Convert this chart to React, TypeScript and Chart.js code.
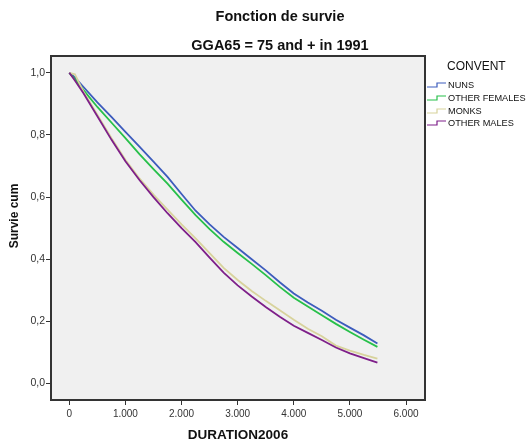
import { useEffect, useRef } from "react";
import { Chart, registerables } from "chart.js";

Chart.register(...registerables);

// ---- data ----
const durations = [0, 100, 250, 500, 750, 1000, 1250, 1500, 1750, 2000, 2250, 2500, 2750, 3000, 3250, 3500, 3750, 4000, 4250, 4500, 4750, 5000, 5250, 5490];
const nuns = [1.0, 0.985, 0.955, 0.905, 0.858, 0.81, 0.762, 0.714, 0.665, 0.61, 0.556, 0.512, 0.472, 0.436, 0.4, 0.364, 0.326, 0.29, 0.261, 0.234, 0.205, 0.18, 0.155, 0.129];
const otherFemales = [1.0, 0.98, 0.945, 0.89, 0.84, 0.79, 0.738, 0.69, 0.643, 0.592, 0.542, 0.497, 0.456, 0.42, 0.385, 0.349, 0.311, 0.276, 0.248, 0.22, 0.192, 0.166, 0.141, 0.118];
const monks = [1.0, 0.995, 0.94, 0.865, 0.79, 0.72, 0.66, 0.608, 0.56, 0.512, 0.467, 0.42, 0.372, 0.333, 0.298, 0.266, 0.236, 0.205, 0.176, 0.152, 0.122, 0.106, 0.092, 0.08];
const otherMales = [1.0, 0.975, 0.935, 0.86, 0.785, 0.715, 0.655, 0.6, 0.548, 0.5, 0.455, 0.405, 0.357, 0.316, 0.28, 0.246, 0.215, 0.186, 0.163, 0.14, 0.116, 0.097, 0.082, 0.067];

const seriesNames = ["NUNS", "OTHER FEMALES", "MONKS", "OTHER MALES"];
const seriesValues = [nuns, otherFemales, monks, otherMales];
const seriesColors = ["#3d5cbd", "#27c04a", "#d8d39c", "#7e1f89"];

const xTicks = [0, 1000, 2000, 3000, 4000, 5000, 6000];
const yTicks = [0, 0.2, 0.4, 0.6, 0.8, 1.0];

const titleLines = ["Fonction de survie", "GGA65 = 75 and + in 1991"];
const xTitle = "DURATION2006";
const yTitle = "Survie cum";
const legendTitle = "CONVENT";

const FONT = "Arial, 'Liberation Sans', sans-serif";

function fmtX(v: number): string {
  if (v === 0) return "0";
  const s = String(Math.round(v));
  return s.replace(/\B(?=(\d{3})+(?!\d))/g, ".");
}
function fmtY(v: number): string {
  return v.toFixed(1).replace(".", ",");
}

const decorPlugin = {
  id: "decor",
  beforeDraw(chart: any) {
    const { ctx, chartArea } = chart;
    ctx.save();
    ctx.fillStyle = "#f0f0f0";
    ctx.fillRect(chartArea.left, chartArea.top, chartArea.right - chartArea.left, chartArea.bottom - chartArea.top);
    ctx.restore();
  },
  afterDraw(chart: any) {
    const { ctx, chartArea } = chart;
    ctx.save();
    // frame
    ctx.strokeStyle = "#333333";
    ctx.lineWidth = 2;
    ctx.strokeRect(chartArea.left, chartArea.top, chartArea.right - chartArea.left, chartArea.bottom - chartArea.top);

    // titles
    ctx.fillStyle = "#111111";
    ctx.textAlign = "center";
    ctx.textBaseline = "alphabetic";
    ctx.font = `bold 14.5px ${FONT}`;
    ctx.fillText(titleLines[0], 280, 21);
    ctx.fillText(titleLines[1], 280, 50);

    // axis titles
    ctx.font = `bold 13.5px ${FONT}`;
    ctx.textBaseline = "middle";
    ctx.fillText(xTitle, (chartArea.left + chartArea.right) / 2, 435);
    ctx.save();
    ctx.translate(15, 216);
    ctx.rotate(-Math.PI / 2);
    ctx.font = `bold 12px ${FONT}`;
    ctx.fillText(yTitle, 0, 0);
    ctx.restore();

    // legend
    ctx.textAlign = "left";
    ctx.font = `12px ${FONT}`;
    ctx.fillStyle = "#111111";
    ctx.fillText(legendTitle, 447, 67);
    ctx.font = `9.2px ${FONT}`;
    const rows = [85, 98, 111, 123];
    seriesNames.forEach((name, i) => {
      const y = rows[i];
      ctx.strokeStyle = seriesColors[i];
      ctx.lineWidth = 1.2;
      ctx.beginPath();
      ctx.moveTo(427, y + 2);
      ctx.lineTo(437, y + 2);
      ctx.lineTo(437, y - 2);
      ctx.lineTo(446, y - 2);
      ctx.stroke();
      ctx.fillStyle = "#111111";
      ctx.fillText(name, 448, y);
    });
    ctx.restore();
  },
};

export default function App() {
  const ref = useRef<HTMLCanvasElement | null>(null);
  useEffect(() => {
    if (!ref.current) return;
    const chart = new Chart(ref.current, {
      type: "line",
      data: {
        datasets: seriesNames.map((name, i) => ({
          label: name,
          data: durations.map((d, j) => ({ x: d, y: seriesValues[i][j] })),
          borderColor: seriesColors[i],
          backgroundColor: seriesColors[i],
          borderWidth: 1.8,
          pointRadius: 0,
          fill: false,
          tension: 0,
          order: 3 - i,
        })),
      },
      options: {
        animation: false,
        responsive: false,
        devicePixelRatio: 1,
        layout: { padding: { top: 56, right: 101, left: 0, bottom: 0 } },
        plugins: {
          legend: { display: false },
          title: { display: false },
          tooltip: { enabled: false },
        },
        scales: {
          x: {
            type: "linear",
            min: -326,
            max: 6338,
            afterBuildTicks: (s: any) => {
              s.ticks = xTicks.map((v) => ({ value: v }));
            },
            afterFit: (s: any) => {
              s.height = 44;
            },
            ticks: {
              autoSkip: false,
              maxRotation: 0,
              padding: 3,
              color: "#333333",
              font: { family: FONT, size: 10 },
              callback: (v: any) => fmtX(Number(v)),
            },
            grid: { drawOnChartArea: false, drawTicks: true, tickLength: 5, color: "#333333", lineWidth: 1 },
            border: { display: false },
          },
          y: {
            type: "linear",
            min: -0.053,
            max: 1.054,
            afterBuildTicks: (s: any) => {
              s.ticks = yTicks.map((v) => ({ value: v }));
            },
            afterFit: (s: any) => {
              s.width = 51;
            },
            ticks: {
              autoSkip: false,
              padding: 1,
              color: "#333333",
              font: { family: FONT, size: 10.5 },
              callback: (v: any) => fmtY(Number(v)),
            },
            grid: { drawOnChartArea: false, drawTicks: true, tickLength: 5, color: "#333333", lineWidth: 1 },
            border: { display: false },
          },
        },
      },
      plugins: [decorPlugin],
    });
    return () => chart.destroy();
  }, []);
  return (
    <div style={{ position: "fixed", left: 0, top: 0, width: 526, height: 444, background: "#ffffff" }}>
      <canvas ref={ref} width={526} height={444} />
    </div>
  );
}
